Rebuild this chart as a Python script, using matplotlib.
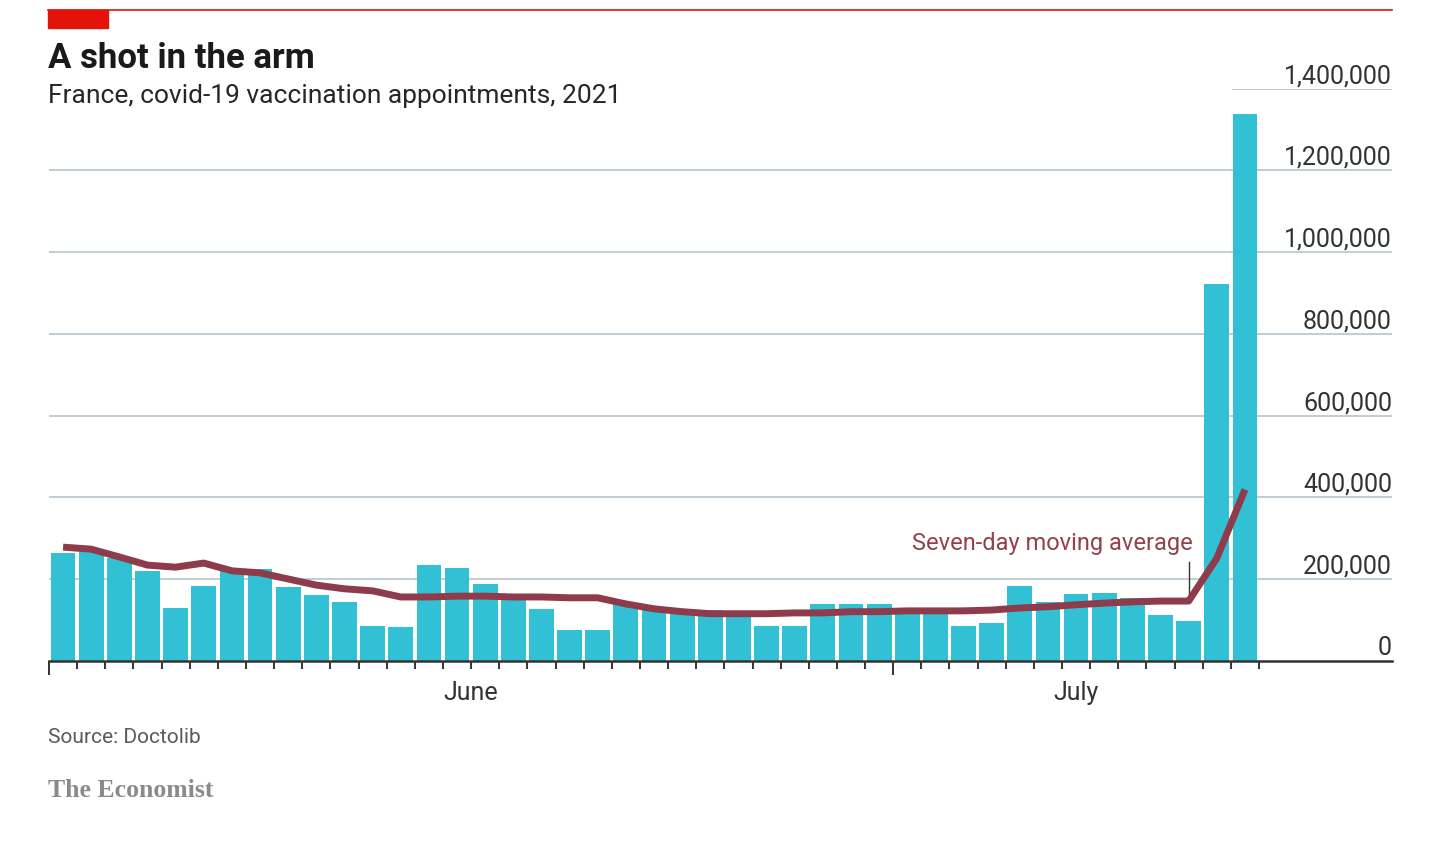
import numpy as np
import matplotlib
matplotlib.use("Agg")
import matplotlib.pyplot as plt
import matplotlib.patches as mpatches

# daily appointments, June 1st to July 13th 2021
appointments = [264000, 273000, 251000, 220000, 130000, 182000, 222000, 225000, 180000, 161000,
                144000, 84000, 83000, 235000, 227000, 188000, 160000, 126000, 76000, 76000,
                140000, 124000, 117000, 124000, 108000, 84000, 86000, 138000, 139000, 139000,
                128000, 124000, 84000, 92000, 183000, 143000, 163000, 166000, 153000, 111000,
                96000, 922000, 1339000]
# seven-day moving average as drawn
moving_avg = [278000, 273000, 254000, 234000, 229000, 239000, 220000, 215000, 200000, 185000,
              176000, 171000, 156000, 156000, 158000, 158000, 156000, 156000, 154000, 154000,
              139000, 127000, 120000, 115000, 115000, 115000, 117000, 117000, 120000, 120000,
              122000, 122000, 122000, 124000, 129000, 132000, 137000, 141000, 144000, 146000,
              146000, 251000, 419000]
months = ["June", "July"]
month_start = [0, 30]
yticks = [0, 200000, 400000, 600000, 800000, 1000000, 1200000, 1400000]

BAR = "#32C0D5"
LINE = "#8E3B4C"
GRID = "#BBC9D2"
RED = "#E3120B"
FONT = "Roboto"

W, H = 1440, 849
fig = plt.figure(figsize=(W / 100, H / 100), dpi=100)
fig.patch.set_facecolor("white")

# axes: left edge x=49, right x=1392, baseline y=660.7, top (1.4m) y=88.8
ax = fig.add_axes([49 / W, 1 - 660.7 / H, 1343 / W, (660.7 - 88.8) / H])
days = np.arange(len(appointments))
ax.set_xlim(0, 1343 / 28.14)
ax.set_ylim(0, 1400000)

for v in yticks[1:]:
    xmin = 0.8816 if v == 1400000 else 0
    ax.axhline(v, xmin=xmin, xmax=1, color=GRID, lw=1.3, zorder=0)

ax.bar(days + 0.5, appointments, width=0.88, color=BAR, zorder=2)
ax.plot(days + 0.5, moving_avg, color=LINE, lw=5, solid_capstyle="butt",
        solid_joinstyle="round", zorder=4)

# annotation
ax.plot([40.5, 40.5], [146000, 242000], color="#333333", lw=1, zorder=3)
ax.text(40.65, 287000, "Seven-day moving average", ha="right", va="center",
        color="#94404F", fontsize=17, family=FONT)

for s in ["top", "left", "right"]:
    ax.spines[s].set_visible(False)
ax.spines["bottom"].set_color("#333333")
ax.spines["bottom"].set_linewidth(1.8)
ax.spines["bottom"].set_zorder(5)

ax.set_yticks([])
ax.set_xticks(month_start)
ax.set_xticks([d for d in range(len(appointments) + 1) if d not in month_start], minor=True)
ax.tick_params(axis="x", which="major", length=10, width=1.4, color="#333333", labelbottom=False)
ax.tick_params(axis="x", which="minor", length=6, width=1.4, color="#333333")

# y labels sit on top of gridlines, right aligned
for v in yticks:
    ax.annotate(f"{v:,}", xy=(1, v), xycoords=("axes fraction", "data"),
                xytext=(0, 4), textcoords="offset points", ha="right", va="baseline",
                fontsize=18, color="#333333", family=FONT)

# month labels centred on their span
label_y = -(700 - 660.7) / (660.7 - 88.8)
ax.text(15, label_y, months[0], transform=ax.get_xaxis_transform(), ha="center",
        va="baseline", fontsize=18, color="#333333", family=FONT)
ax.text(36.5, label_y, months[1], transform=ax.get_xaxis_transform(), ha="center",
        va="baseline", fontsize=18, color="#333333", family=FONT)

# header
fig.add_artist(plt.Line2D([48 / W, 1392 / W], [1 - 10 / H, 1 - 10 / H], color=RED, lw=1.2))
fig.add_artist(mpatches.Rectangle((48 / W, 1 - 28 / H), 60 / W, 18 / H, color=RED,
                                  transform=fig.transFigure))
fig.text(48 / W, 1 - 68.3 / H, "A shot in the arm", fontsize=25, fontweight="bold",
         color="#1a1a1a", family=FONT, va="baseline")
fig.text(48 / W, 1 - 103.3 / H, "France, covid-19 vaccination appointments, 2021", fontsize=19,
         color="#262626", family=FONT, va="baseline")

# footer
fig.text(48 / W, 1 - 742.7 / H, "Source: Doctolib", fontsize=15, color="#5a5a5a",
         family=FONT, va="baseline")
fig.text(48 / W, 1 - 796.7 / H, "The Economist", fontsize=18.5, color="#8a8a8a",
         family="Liberation Serif", fontweight="bold", va="baseline")

fig.savefig("out.png", dpi=100, facecolor="white")
